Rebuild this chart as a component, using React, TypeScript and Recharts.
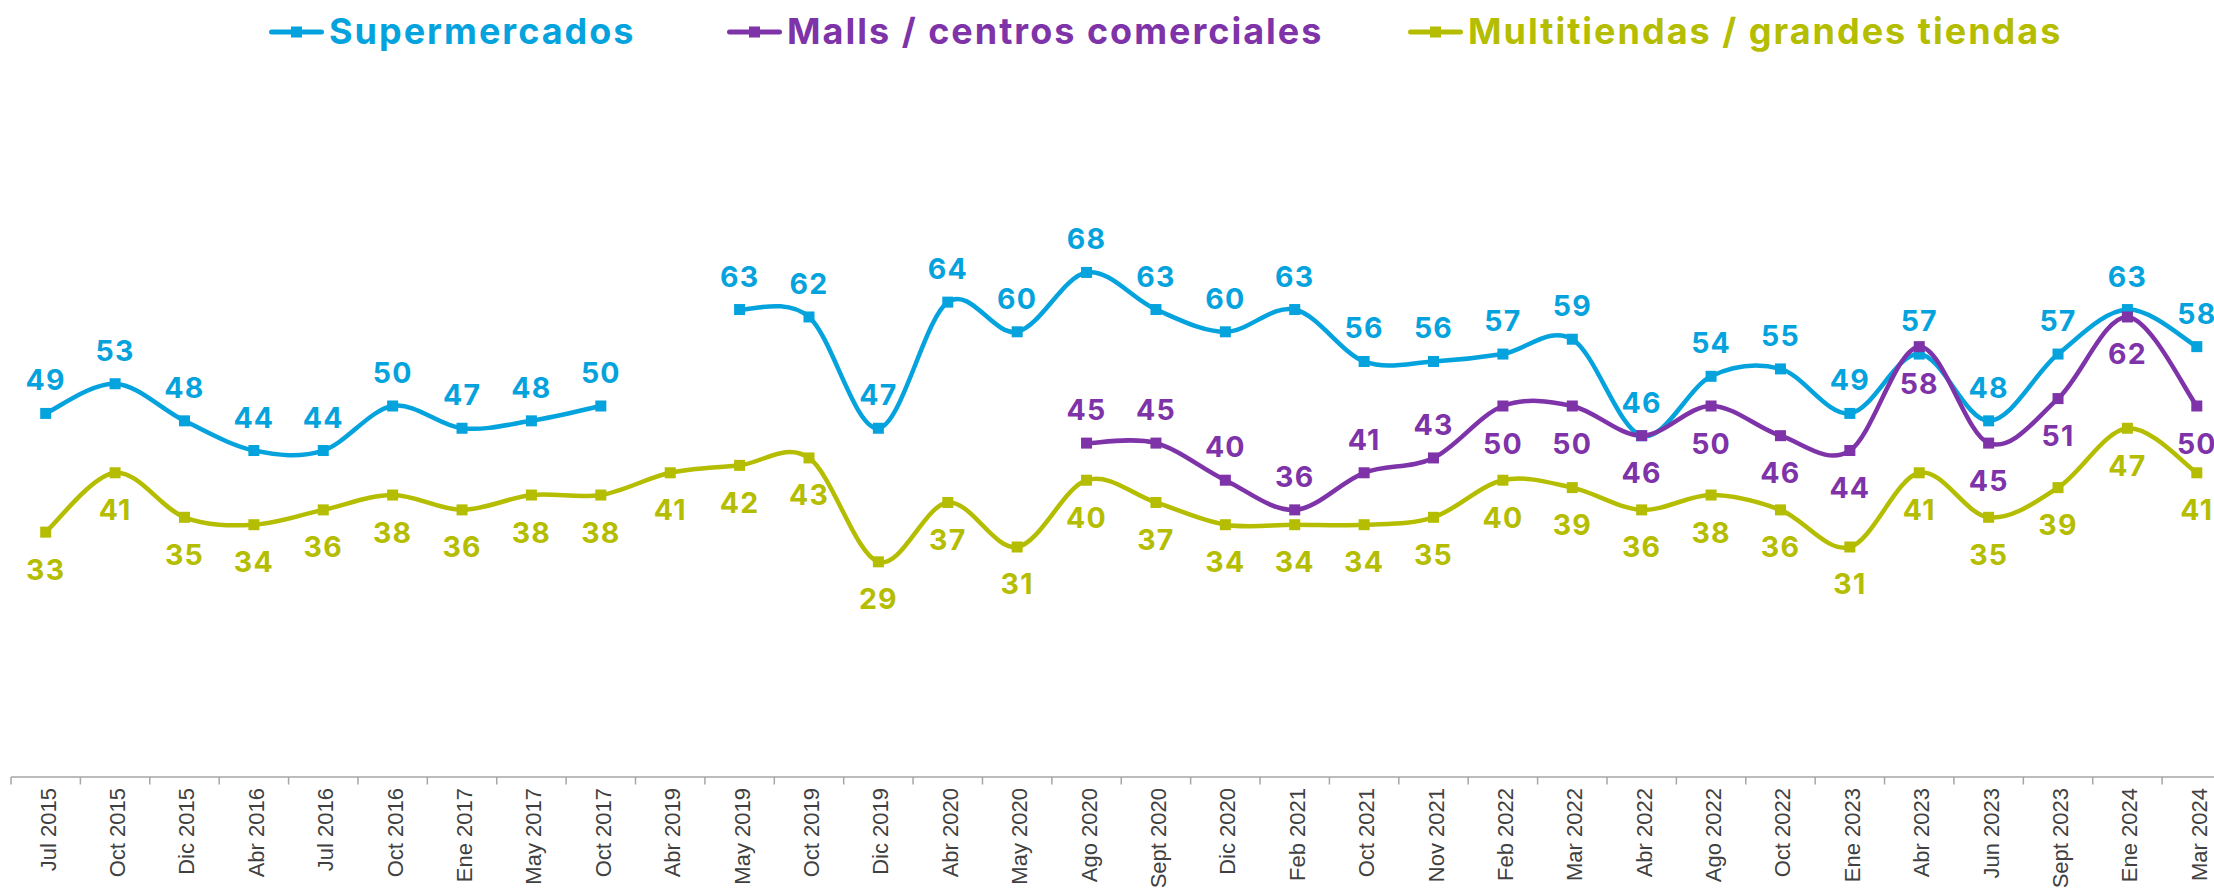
import { LineChart, Line, XAxis, YAxis, Legend, LabelList } from 'recharts'

// ── Data ─────────────────────────────────────────────────────────────────────

const CATEGORIES = [
  'Jul 2015', 'Oct 2015', 'Dic 2015', 'Abr 2016', 'Jul 2016', 'Oct 2016', 'Ene 2017', 'May 2017',
  'Oct 2017', 'Abr 2019', 'May 2019', 'Oct 2019', 'Dic 2019', 'Abr 2020', 'May 2020', 'Ago 2020',
  'Sept 2020', 'Dic 2020', 'Feb 2021', 'Oct 2021', 'Nov 2021', 'Feb 2022', 'Mar 2022', 'Abr 2022',
  'Ago 2022', 'Oct 2022', 'Ene 2023', 'Abr 2023', 'Jun 2023', 'Sept 2023', 'Ene 2024', 'Mar 2024',
]

const SUPERMERCADOS = [
  49, 53, 48, 44, 44, 50, 47, 48, 50, null, 63, 62, 47, 64, 60, 68,
  63, 60, 63, 56, 56, 57, 59, 46, 54, 55, 49, 57, 48, 57, 63, 58,
]

const MALLS = [
  null, null, null, null, null, null, null, null, null, null, null, null, null, null, null, 45,
  45, 40, 36, 41, 43, 50, 50, 46, 50, 46, 44, 58, 45, 51, 62, 50,
]

const MULTITIENDAS = [
  33, 41, 35, 34, 36, 38, 36, 38, 38, 41, 42, 43, 29, 37, 31, 40,
  37, 34, 34, 34, 35, 40, 39, 36, 38, 36, 31, 41, 35, 39, 47, 41,
]

// Malls labels sit above the line until this category, below from it on
const MALLS_LABELS_BELOW_FROM = 'Feb 2022'

const data = CATEGORIES.map((c, i) => ({
  cat: c,
  sup: SUPERMERCADOS[i],
  malls: MALLS[i],
  multi: MULTITIENDAS[i],
}))

// ── Style ────────────────────────────────────────────────────────────────────

const BLUE = '#05A3DD'
const PURPLE = '#7E33A8'
const GREEN = '#B4BD00'

const SERIES = [
  { key: 'sup', name: 'Supermercados', color: BLUE, width: 458 },
  { key: 'malls', name: 'Malls / centros comerciales', color: PURPLE, width: 681 },
  { key: 'multi', name: 'Multitiendas / grandes tiendas', color: GREEN, width: 700 },
]

const CHART_W = 2260
const CHART_H = 896
const PLOT_LEFT = 11
const PLOT_W = 2220.5
const PLOT_TOP = 35
const PLOT_BOTTOM = 777
const BAND = PLOT_W / CATEGORIES.length
const LABEL_FONT = 'Inter, "Noto Sans", sans-serif'

// Excel-like smoothed line (Catmull-Rom through every point)
function smoothCurve(context: any) {
  let pts: [number, number][] = []
  return {
    areaStart() {},
    areaEnd() {},
    lineStart() { pts = [] },
    lineEnd() {
      if (!pts.length) return
      context.moveTo(pts[0][0], pts[0][1])
      for (let i = 0; i < pts.length - 1; i++) {
        const p0 = pts[i - 1] ?? pts[i]
        const p1 = pts[i]
        const p2 = pts[i + 1]
        const p3 = pts[i + 2] ?? p2
        context.bezierCurveTo(
          p1[0] + (p2[0] - p0[0]) / 6, p1[1] + (p2[1] - p0[1]) / 6,
          p2[0] - (p3[0] - p1[0]) / 6, p2[1] - (p3[1] - p1[1]) / 6,
          p2[0], p2[1],
        )
      }
    },
    point(x: number, y: number) { pts.push([+x, +y]) },
  }
}

function squareDot(color: string) {
  return (props: any) => {
    const { cx, cy, index } = props
    if (cx == null || cy == null || props.value == null || props.payload == null) return <g key={index} />
    return <rect key={index} x={cx - 5.5} y={cy - 5.5} width={11} height={11} fill={color} />
  }
}

function valueLabel(color: string, below: (i: number) => boolean) {
  return (props: any) => {
    const { x, y, value, index } = props
    if (value == null || x == null || y == null) return null
    const dy = below(index) ? 47.5 : -23
    return (
      <text
        x={x}
        y={y + dy}
        textAnchor="middle"
        fill={color}
        fontFamily={LABEL_FONT}
        fontWeight={700}
        fontSize={28.5}
        letterSpacing={1.2}
      >
        {value}
      </text>
    )
  }
}

function CategoryTick(props: any) {
  const { x, y, payload } = props
  const ty = y - 4
  return (
    <g>
      <line x1={x - BAND / 2} x2={x - BAND / 2} y1={y - 15} y2={y - 7.5} stroke="#A6A6A6" strokeWidth={1.5} />
      <text
        x={x}
        y={ty}
        dy={10}
        transform={`rotate(-90, ${x}, ${ty})`}
        textAnchor="end"
        fill="#404040"
        fontFamily='"Liberation Sans", Arial, sans-serif'
        fontSize={22}
      >
        {payload.value}
      </text>
    </g>
  )
}

function LegendContent() {
  return (
    <div style={{ display: 'flex', alignItems: 'center', paddingLeft: 269, height: 63 }}>
      {SERIES.map((s) => (
        <div key={s.key} style={{ display: 'flex', alignItems: 'center', width: s.width, flex: 'none' }}>
          <svg width={55} height={12} style={{ flex: 'none' }}>
            <line x1={2.5} x2={52.5} y1={6} y2={6} stroke={s.color} strokeWidth={5} strokeLinecap="round" />
            <rect x={22} y={0.5} width={11} height={11} fill={s.color} />
          </svg>
          <span
            style={{
              marginLeft: 5,
              fontFamily: LABEL_FONT,
              fontWeight: 700,
              fontSize: 36,
              letterSpacing: 2,
              color: s.color,
              whiteSpace: 'nowrap',
              lineHeight: '63px',
            }}
          >
            {s.name}
          </span>
        </div>
      ))}
    </div>
  )
}

export default function App() {
  const mallsBelowFrom = CATEGORIES.indexOf(MALLS_LABELS_BELOW_FROM)
  return (
    <div
      style={{
        position: 'absolute',
        left: 0,
        top: 0,
        width: 2214,
        height: 896,
        overflow: 'hidden',
        background: '#fff',
      }}
    >
      <LineChart
        width={CHART_W}
        height={CHART_H}
        data={data}
        margin={{ top: PLOT_TOP, right: CHART_W - PLOT_LEFT - PLOT_W, left: PLOT_LEFT, bottom: 0 }}
      >
        <XAxis
          dataKey="cat"
          interval={0}
          height={CHART_H - PLOT_BOTTOM}
          padding={{ left: BAND / 2, right: BAND / 2 }}
          tickSize={0}
          tickMargin={15}
          tickLine={false}
          axisLine={{ stroke: '#A6A6A6', strokeWidth: 1.5 }}
          tick={<CategoryTick />}
        />
        <YAxis hide domain={[0, 100]} />
        <Legend
          verticalAlign="middle"
          align="center"
          wrapperStyle={{ top: 0, left: 0, width: 2214 }}
          content={<LegendContent />}
        />
        <Line
          dataKey="sup"
          name="Supermercados"
          type={smoothCurve as any}
          stroke={BLUE}
          strokeWidth={4.5}
          dot={squareDot(BLUE)}
          activeDot={false}
          isAnimationActive={false}
        >
          <LabelList dataKey="sup" content={valueLabel(BLUE, () => false)} />
        </Line>
        <Line
          dataKey="malls"
          name="Malls / centros comerciales"
          type={smoothCurve as any}
          stroke={PURPLE}
          strokeWidth={4.5}
          dot={squareDot(PURPLE)}
          activeDot={false}
          isAnimationActive={false}
        >
          <LabelList dataKey="malls" content={valueLabel(PURPLE, (i) => i >= mallsBelowFrom)} />
        </Line>
        <Line
          dataKey="multi"
          name="Multitiendas / grandes tiendas"
          type={smoothCurve as any}
          stroke={GREEN}
          strokeWidth={4.5}
          dot={squareDot(GREEN)}
          activeDot={false}
          isAnimationActive={false}
        >
          <LabelList dataKey="multi" content={valueLabel(GREEN, () => true)} />
        </Line>
      </LineChart>
    </div>
  )
}
